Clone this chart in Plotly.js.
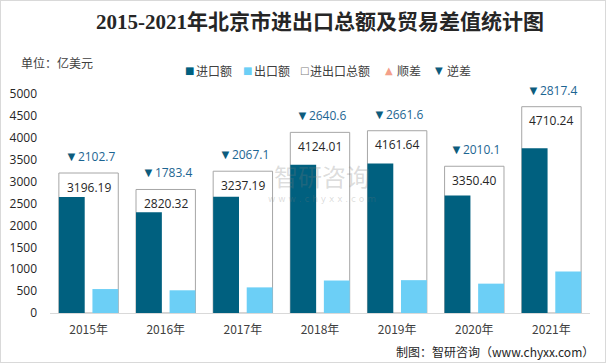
<!DOCTYPE html>
<html>
<head>
<meta charset="utf-8">
<script src="https://cdn.plot.ly/plotly-3.0.1.min.js"></script>
<style>
html,body{margin:0;padding:0;background:#fff;}
#chart{width:604px;height:361px;border:1px solid #d9d9d9;}
</style>
</head>
<body>
<div id="chart"></div>
<script>
var years = ["2015年","2016年","2017年","2018年","2019年","2020年","2021年"];
var totalLabels = ["3196.19","2820.32","3237.19","4124.01","4161.64","3350.40","4710.24"];
var totalValues = [3196.19,2820.32,3237.19,4124.01,4161.64,3350.40,4710.24];
var deficitValues = [2102.7,1783.4,2067.1,2640.6,2661.6,2010.1,2817.4];
var importValues = [2649.4,2301.9,2652.1,3382.3,3411.6,2680.3,3763.8];
var exportValues = [546.7,518.5,585.0,741.7,750.0,670.1,946.4];
var yTicks = [0,500,1000,1500,2000,2500,3000,3500,4000,4500,5000];

var cImport = "#00607f", cExport = "#6ccff6", cBorder = "#a6a6a6";
var cDefTri = "#0d5c7d", cDefText = "#1c6592", cSurplus = "#f4a08a";
var fontCJK = "'Noto Sans CJK SC', 'Noto Sans', sans-serif";

function px(x){ return (x - 50) / 540; }
function py(y){ return (313 - y) / 219; }

var traces = [
  {type:"bar", name:"进出口总额", x:years, y:totalValues, width:0.77, offset:-0.385,
   marker:{color:"#ffffff", line:{color:cBorder, width:1}}, hoverinfo:"y"},
  {type:"bar", name:"进口额", x:years, y:importValues, width:0.335, offset:-0.385,
   marker:{color:cImport}, hoverinfo:"y"},
  {type:"bar", name:"出口额", x:years, y:exportValues, width:0.335, offset:0.05,
   marker:{color:cExport}, hoverinfo:"y"}
];

var annotations = [];
// watermark (drawn first so it sits under the labels)
annotations.push({xref:"paper", yref:"paper", x:px(322), y:py(175), xanchor:"center", yanchor:"middle",
  text:"智研咨询", showarrow:false, borderpad:0,
  font:{family:fontCJK, size:24, color:"rgba(120,120,120,0.26)"}});
annotations.push({xref:"paper", yref:"paper", x:px(322), y:py(199), xanchor:"center", yanchor:"middle",
  text:"w w w . c h y x x . c o m", showarrow:false, borderpad:0,
  font:{family:"'DejaVu Sans', sans-serif", size:9, color:"rgba(120,120,120,0.26)"}});

years.forEach(function(yr, i){
  annotations.push({x:yr, y:totalValues[i], xref:"x", yref:"y", text:totalLabels[i],
    showarrow:false, yanchor:"middle", yshift:-14,
    font:{family:"'Open Sans', 'Noto Sans', sans-serif", size:12, color:"#262626"}});
  annotations.push({x:yr, y:totalValues[i], xref:"x", yref:"y",
    text:"<span style='color:"+cDefTri+";font-size:13px'>▼</span>"+deficitValues[i].toFixed(1),
    showarrow:false, yanchor:"middle", yshift:17, xshift:1,
    font:{family:"'Open Sans', 'Noto Sans', sans-serif", size:12, color:cDefText}});
});

// legend
var legendItems = [
  {sym:"■", col:cImport, sx:183, text:"进口额", tx:194},
  {sym:"■", col:cExport, sx:241, text:"出口额", tx:252},
  {sym:"□", col:"#808080", sx:298, text:"进出口总额", tx:308},
  {sym:"▲", col:cSurplus, sx:383, text:"顺差", tx:395},
  {sym:"▼", col:cDefTri, sx:433, text:"逆差", tx:445}
];
legendItems.forEach(function(it){
  annotations.push({xref:"paper", yref:"paper", x:px(it.sx), y:py(70), xanchor:"left", yanchor:"middle",
    text:it.sym, showarrow:false, font:{family:"'DejaVu Sans', sans-serif", size:10, color:it.col}});
  annotations.push({xref:"paper", yref:"paper", x:px(it.tx), y:py(70), xanchor:"left", yanchor:"middle",
    text:it.text, showarrow:false, font:{family:fontCJK, size:12, color:"#404040"}});
});

// unit
annotations.push({xref:"paper", yref:"paper", x:px(19), y:py(63), xanchor:"left", yanchor:"middle",
  text:"单位：亿美元", showarrow:false, font:{family:fontCJK, size:12, color:"#404040"}});
// footer
annotations.push({xref:"paper", yref:"paper", x:px(596), y:py(351), xanchor:"right", yanchor:"middle",
  text:"制图：智研咨询（www.chyxx.com）", showarrow:false, font:{family:fontCJK, size:12, color:"#262626"}});

var layout = {
  width:604, height:361,
  margin:{l:49, r:15, t:93, b:49},
  paper_bgcolor:"#ffffff", plot_bgcolor:"#ffffff",
  showlegend:false,
  barmode:"overlay",
  title:{text:"<b>2015-2021年北京市进出口总额及贸易差值统计图</b>", x:0.5, xref:"paper", xanchor:"center",
         y:1-21/361, yref:"container", yanchor:"middle",
         font:{family:"'Liberation Serif', 'Noto Sans CJK SC', serif", size:21, color:"#262626"}},
  xaxis:{type:"category", showgrid:false, zeroline:false, showline:true, linecolor:"#d9d9d9", linewidth:1,
         ticks:"", tickfont:{family:fontCJK, size:12, color:"#404040"}, ticklabelstandoff:6, fixedrange:true},
  yaxis:{range:[0,5000], tickvals:yTicks, showgrid:false, zeroline:false, showline:false, ticks:"",
         tickfont:{family:"'Open Sans', 'Noto Sans', sans-serif", size:12, color:"#262626"},
         ticklabelstandoff:12, fixedrange:true},
  annotations:annotations
};

Plotly.newPlot("chart", traces, layout, {displayModeBar:false, staticPlot:true});
</script>
</body>
</html>
